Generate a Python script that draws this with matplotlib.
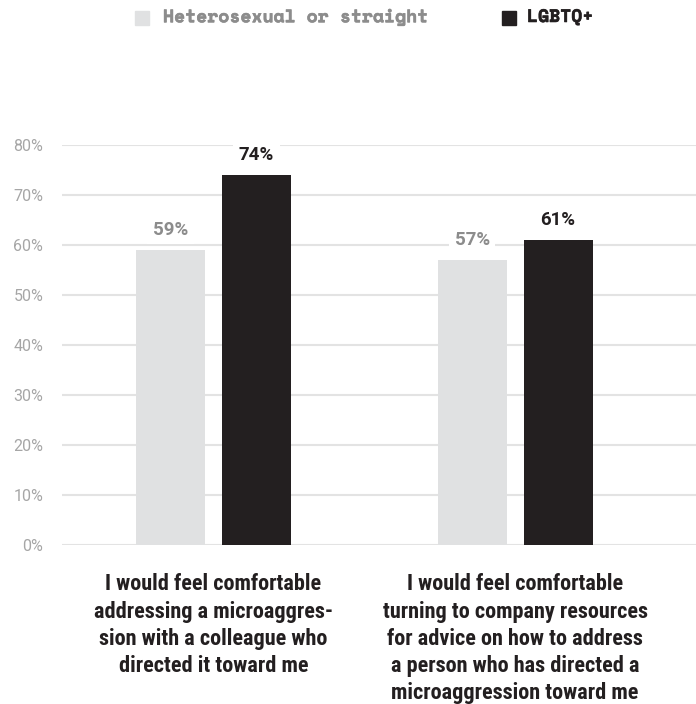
import matplotlib
matplotlib.use("Agg")
import matplotlib.pyplot as plt
import matplotlib.patheffects as pe
import numpy as np

categories = [
    "I would feel comfortable\naddressing a microaggres-\nsion with a colleague who\ndirected it toward me",
    "I would feel comfortable\nturning to company resources\nfor advice on how to address\na person who has directed a\nmicroaggression toward me",
]
series_names = ["Heterosexual or straight", "LGBTQ+"]
straight = [59, 57]
lgbtq = [74, 61]
yticks = [0, 10, 20, 30, 40, 50, 60, 70, 80]

LIGHT = "#e0e1e2"
DARK = "#231f20"
GRAY_TXT = "#8c8c8c"
TICK_TXT = "#a6a6a6"
GRID = "#e3e3e3"

COND = ["Roboto Condensed", "PT Sans Narrow", "DejaVu Sans"]
SANS = ["Roboto", "DejaVu Sans"]
MONO = ["Space Mono", "DejaVu Sans Mono"]

fig = plt.figure(figsize=(6.96, 7.04), dpi=100)
ax = fig.add_axes([62 / 696, 159 / 704, 634 / 696, 400 / 704])

x = np.arange(len(categories))
w = 0.229
off = 0.1426
b1 = ax.bar(x - off, straight, w, color=LIGHT, zorder=2)
b2 = ax.bar(x + off, lgbtq, w, color=DARK, zorder=2)

for rects, vals, col in [(b1, straight, GRAY_TXT), (b2, lgbtq, DARK)]:
    for r, v in zip(rects, vals):
        ax.annotate(f"{v}%", (r.get_x() + r.get_width() / 2, v),
                    xytext=(0, 14.5), textcoords="offset points",
                    ha="center", va="center", fontsize=13.5, fontweight="bold",
                    family=SANS, color=col, zorder=4,
                    bbox=dict(boxstyle="square,pad=0.3", fc="white", ec="none"))

ax.set_xlim(-0.5025, 1.600)
ax.set_ylim(0, 80)
ax.set_yticks(yticks)
ax.set_yticklabels([f"{t}%" for t in yticks], family=SANS)
ax.yaxis.grid(True, color=GRID, linewidth=1.5, zorder=0)
ax.set_xticks([])
ax.tick_params(axis="y", length=0, pad=13.5, labelsize=11.5, labelcolor=TICK_TXT)
for s in ax.spines.values():
    s.set_visible(False)
ax.set_axisbelow(True)

# category captions under each group
for xi, cat in zip(x, categories):
    ax.text(xi, -5.7, cat, ha="center", va="top", fontsize=16, fontweight="bold",
            family=COND, color=DARK, linespacing=1.3,
            transform=ax.transData)

# legend row across the top
fig.patches.append(plt.Rectangle((135 / 696, 1 - 25 / 704), 14 / 696, 14 / 704,
                                 transform=fig.transFigure, color=LIGHT))
fig.text(163 / 696, 1 - 18 / 704, series_names[0], ha="left", va="center",
         family=MONO, fontweight="bold", fontsize=13, color=GRAY_TXT,
         path_effects=[pe.withStroke(linewidth=0.4, foreground=GRAY_TXT)])
fig.patches.append(plt.Rectangle((502 / 696, 1 - 25 / 704), 14 / 696, 14 / 704,
                                 transform=fig.transFigure, color=DARK))
fig.text(527 / 696, 1 - 18 / 704, series_names[1], ha="left", va="center",
         family=MONO, fontweight="bold", fontsize=13, color=DARK,
         path_effects=[pe.withStroke(linewidth=0.4, foreground=DARK)])

fig.savefig("out.png", dpi=100, facecolor="white")
